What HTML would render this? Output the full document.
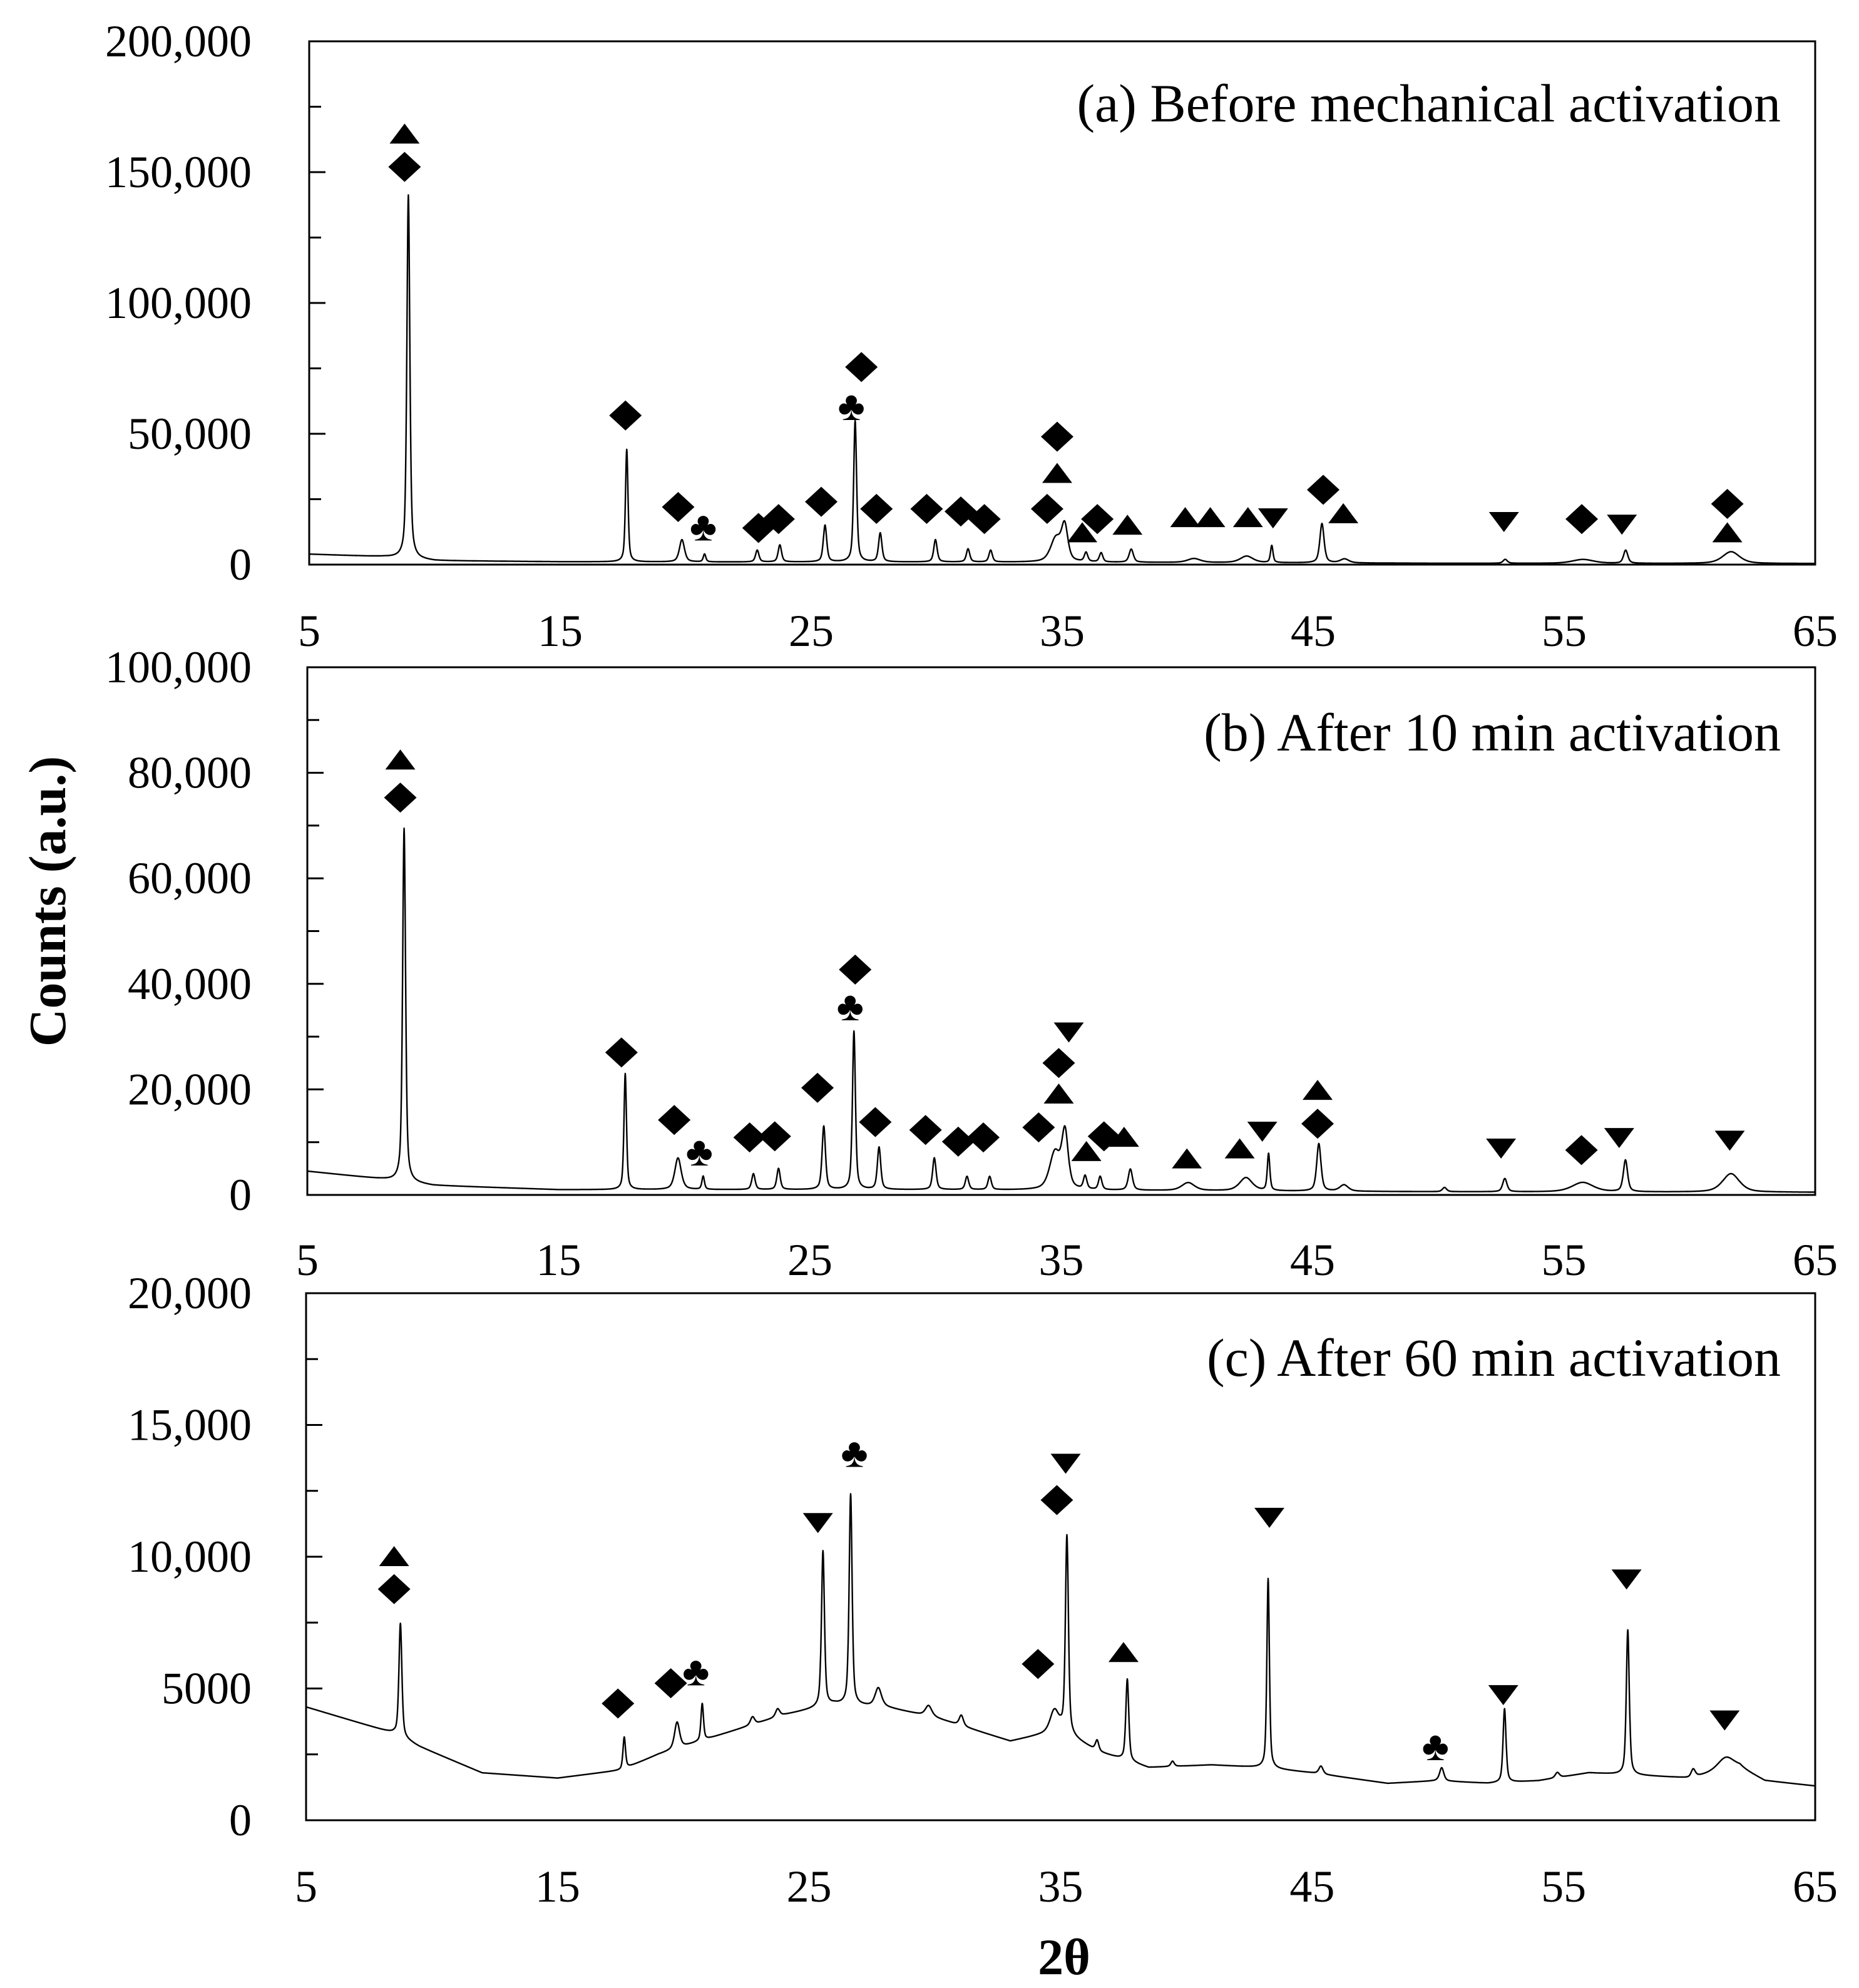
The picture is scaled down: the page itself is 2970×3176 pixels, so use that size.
<!DOCTYPE html>
<html><head><meta charset="utf-8"><style>
html,body{margin:0;padding:0;background:#fff}
svg{display:block}
text{font-family:"Liberation Serif","DejaVu Serif",serif;fill:#000}
</style></head><body>
<svg id="chart" width="2970" height="3176" viewBox="0 0 2970 3176" xmlns="http://www.w3.org/2000/svg">
<text transform="translate(104,1440) rotate(-90)" text-anchor="middle" font-size="84" font-weight="bold">Counts (a.u.)</text>
<text x="1700" y="3154" text-anchor="middle" font-size="82" font-weight="bold">2θ</text>
</svg>
<script>
// ---- Panel (a) data ----
const aPeakPos = [8.95,17.65,19.85,20.75,22.85,23.75,25.55,26.75,27.75,29.95,31.25,32.15,34.75,35.1,35.95,36.55,37.75,40.25,42.35,43.35,45.35,46.25,52.65,55.75,57.45,61.65];
const aPeakH   = [139000,43000,8500,3000,4500,6500,14000,54000,11000,8500,5000,4500,9000,13000,3500,3500,5000,1500,2500,6500,15000,1500,1500,1500,5000,4500];
const aPeakW   = [0.07,0.06,0.12,0.06,0.08,0.08,0.08,0.07,0.08,0.08,0.08,0.08,0.25,0.15,0.08,0.08,0.1,0.3,0.3,0.06,0.1,0.2,0.1,0.5,0.1,0.4];
const aBgX = [5,8,10,15,20,30,40,50,65];
const aBgY = [4000,3000,1500,1100,1000,1000,800,500,400];
const aMarkX = [8.8,8.8,17.6,19.7,20.7,22.9,23.7,25.4,27.0,26.6,27.6,29.6,30.96,31.9,34.4,34.8,34.8,35.8,36.4,37.6,39.9,40.9,42.4,43.4,45.4,46.2,52.6,55.7,57.3,61.5,61.5];
const aMarkY = [164500,152000,57000,22000,14500,14000,17400,24000,75500,60500,21300,21300,20300,17400,21300,48900,34800,12100,17400,15000,17900,17900,17900,17900,28600,19400,16500,17400,15500,23200,12100];
const aMarkT = ["up","dia","dia","dia","club","dia","dia","dia","dia","club","dia","dia","dia","dia","dia","dia","up","up","dia","up","up","up","up","down","dia","up","down","dia","down","dia","up"];
// ---- Panel (b) data ----
const bPeakPos = [8.85,17.65,19.75,20.75,22.75,23.75,25.55,26.75,27.75,29.95,31.25,32.15,34.75,35.15,35.95,36.55,37.75,40.05,42.35,43.25,45.25,46.25,50.25,52.65,55.75,57.45,61.65];
const bPeakH   = [67000,22000,6000,2500,3000,4000,12000,30000,8000,6000,2500,2500,7000,10500,2500,2500,4000,1500,2500,7000,9000,1200,800,2500,1800,6000,3500];
const bPeakW   = [0.07,0.06,0.15,0.06,0.08,0.08,0.08,0.07,0.08,0.08,0.08,0.08,0.25,0.15,0.08,0.08,0.1,0.3,0.3,0.06,0.1,0.2,0.1,0.1,0.5,0.1,0.4];
const bBgX = [5,8,10,15,20,30,40,50,65];
const bBgY = [4500,3000,1800,1000,1000,1000,800,600,500];
const bMarkX = [8.7,8.7,17.5,19.6,20.6,22.6,23.6,25.3,26.8,26.6,27.6,29.6,30.9,31.9,34.1,35.3,34.9,34.9,36.0,36.7,37.5,40.0,42.1,43.0,45.2,45.2,52.5,55.7,57.2,61.6];
const bMarkY = [82400,75300,27000,14200,8200,10900,11100,20300,42700,35700,13800,12300,10100,10900,12800,30900,25000,19100,8200,11100,10900,6800,8700,12100,19800,13500,8900,8500,10900,10400];
const bMarkT = ["up","dia","dia","dia","club","dia","dia","dia","dia","club","dia","dia","dia","dia","dia","down","dia","up","up","dia","up","up","up","down","up","dia","down","dia","down","down"];
// ---- Panel (c) data ----
const cPeakPos = [8.75,17.65,19.75,20.75,22.75,23.75,25.55,26.65,27.75,29.75,31.05,34.75,35.25,36.45,37.65,39.45,43.25,45.35,50.15,52.65,54.75,57.55,60.15,61.45];
const cPeakH   = [4300,1200,1000,1400,300,300,5900,8000,700,400,400,800,7500,400,3100,200,7200,300,500,2800,200,5500,300,500];
const cPeakW   = [0.07,0.06,0.12,0.06,0.1,0.1,0.07,0.07,0.15,0.15,0.1,0.2,0.07,0.08,0.07,0.08,0.06,0.1,0.1,0.07,0.1,0.07,0.1,0.4];
const cBgX = [5,8.5,9.5,12,15,17.5,19,21,24,26,28,30,33,35,36.5,38.5,41,43,45,48,50,52,54,56,58,60,62,63,65];
const cBgY = [4300,3300,2800,1800,1600,1900,2500,3100,4000,4400,4300,3900,3000,3400,2600,2000,2100,2000,1800,1400,1500,1400,1500,1800,1700,1600,2000,1500,1300];
const cMarkX = [8.5,8.5,17.4,19.5,20.5,25.35,26.8,35.2,34.85,34.1,37.5,43.3,49.9,52.6,57.5,61.4];
const cMarkY = [10000,8770,4430,5200,5640,11300,13930,13550,12150,5930,6360,11500,2800,4770,9160,3810];
const cMarkT = ["up","dia","dia","dia","club","down","club","down","dia","dia","up","down","club","down","down","down"];
// ---- axis ticks ----
const aTicks = [0,50000,100000,150000,200000];
const bTicks = [0,20000,40000,60000,80000,100000];
const cTicks = [0,5000,10000,15000,20000];
const aTickLabels = ["0","50,000","100,000","150,000","200,000"];
const bTickLabels = ["0","20,000","40,000","60,000","80,000","100,000"];
const cTickLabels = ["0","5000","10,000","15,000","20,000"];
const xTicks = [5,15,25,35,45,55,65];

const NS = "http://www.w3.org/2000/svg";
const svg = document.getElementById("chart");
function mk(tag, attrs, parent){const e=document.createElementNS(NS,tag);for(const k in attrs)e.setAttribute(k,attrs[k]);(parent||svg).appendChild(e);return e;}
function interp(xs,ys,x){if(x<=xs[0])return ys[0];for(let i=1;i<xs.length;i++){if(x<=xs[i]){const t=(x-xs[i-1])/(xs[i]-xs[i-1]);return ys[i-1]+t*(ys[i]-ys[i-1]);}}return ys[ys.length-1];}

function panel(cfg){
  const {id,left,right,top,bottom,ymax,ticks,tickLabels,minorStep,pos,h,w,bgX,bgY,mx,my,mt,title,titleY,xLabelY}=cfg;
  const g = mk("g",{});
  
  
  const X = v => left + (v-5)/60*(right-left);
  const Y = v => bottom - v/ymax*(bottom-top);
  let d="";
  for(let i=0;i<=6000;i++){
    const x=5+i*0.01;
    let y=interp(bgX,bgY,x);
    for(let k=0;k<pos.length;k++){const u=(x-pos[k])/w[k];y+=h[k]*(0.55/(1+u*u)+0.45*Math.exp(-0.693*u*u));}
    y=Math.min(y,ymax);
    d+=(i?"L":"M")+X(x).toFixed(1)+","+Y(y).toFixed(1);
  }
  const p=mk("path",{d:d,fill:"none",stroke:"#000","stroke-width":"2.4","stroke-linejoin":"round"},g);
  
  
  const fr=mk("rect",{x:left,y:top,width:right-left,height:bottom-top,fill:"none",stroke:"#000","stroke-width":"3"},g);
  
  
  for(let v=0;v<=ymax+1;v+=minorStep){
    const major=ticks.indexOf(v)>=0;
    const t=mk("line",{x1:left,x2:left+(major?26:19),y1:Y(v),y2:Y(v),stroke:"#000","stroke-width":"3"},g);
    
    
  }
  for(let i=0;i<ticks.length;i++){
    const t=mk("text",{x:402,y:Y(ticks[i])+24,"text-anchor":"end","font-size":"72"},g);
    t.textContent=tickLabels[i];
    
    
  }
  for(const v of xTicks){
    const t=mk("text",{x:X(v),y:xLabelY,"text-anchor":"middle","font-size":"72"},g);
    t.textContent=String(v);
    
    
  }
  const tt=mk("text",{x:2845,y:titleY,"text-anchor":"end","font-size":"86"},g);
  tt.textContent=title;
  
  
  for(let i=0;i<mx.length;i++){
    const cx=X(mx[i]), cy=Y(my[i]);
    let m;
    if(mt[i]==="up") m=mk("path",{d:`M${cx-24},${cy+15}L${cx+24},${cy+15}L${cx},${cy-17}Z`,fill:"#000"},g);
    else if(mt[i]==="down") m=mk("path",{d:`M${cx-24},${cy-15}L${cx+24},${cy-15}L${cx},${cy+17}Z`,fill:"#000"},g);
    else if(mt[i]==="dia") m=mk("path",{d:`M${cx-26},${cy}L${cx},${cy-24}L${cx+26},${cy}L${cx},${cy+24}Z`,fill:"#000"},g);
    else {m=mk("text",{x:cx,y:cy+22,"text-anchor":"middle","font-size":"66","font-family":"DejaVu Sans, sans-serif"},g);m.textContent="♣";}
    
    
  }
}
panel({id:"a",left:494,right:2900,top:66,bottom:902,ymax:200000,ticks:aTicks,tickLabels:aTickLabels,minorStep:25000,pos:aPeakPos,h:aPeakH,w:aPeakW,bgX:aBgX,bgY:aBgY,mx:aMarkX,my:aMarkY,mt:aMarkT,title:"(a) Before mechanical activation",titleY:194,xLabelY:1032});
panel({id:"b",left:491,right:2900,top:1066,bottom:1909,ymax:100000,ticks:bTicks,tickLabels:bTickLabels,minorStep:10000,pos:bPeakPos,h:bPeakH,w:bPeakW,bgX:bBgX,bgY:bBgY,mx:bMarkX,my:bMarkY,mt:bMarkT,title:"(b) After 10 min activation",titleY:1199,xLabelY:2037});
panel({id:"c",left:489,right:2900,top:2066,bottom:2908,ymax:20000,ticks:cTicks,tickLabels:cTickLabels,minorStep:2500,pos:cPeakPos,h:cPeakH,w:cPeakW,bgX:cBgX,bgY:cBgY,mx:cMarkX,my:cMarkY,mt:cMarkT,title:"(c) After 60 min activation",titleY:2198,xLabelY:3038});
</script>
</body></html>
